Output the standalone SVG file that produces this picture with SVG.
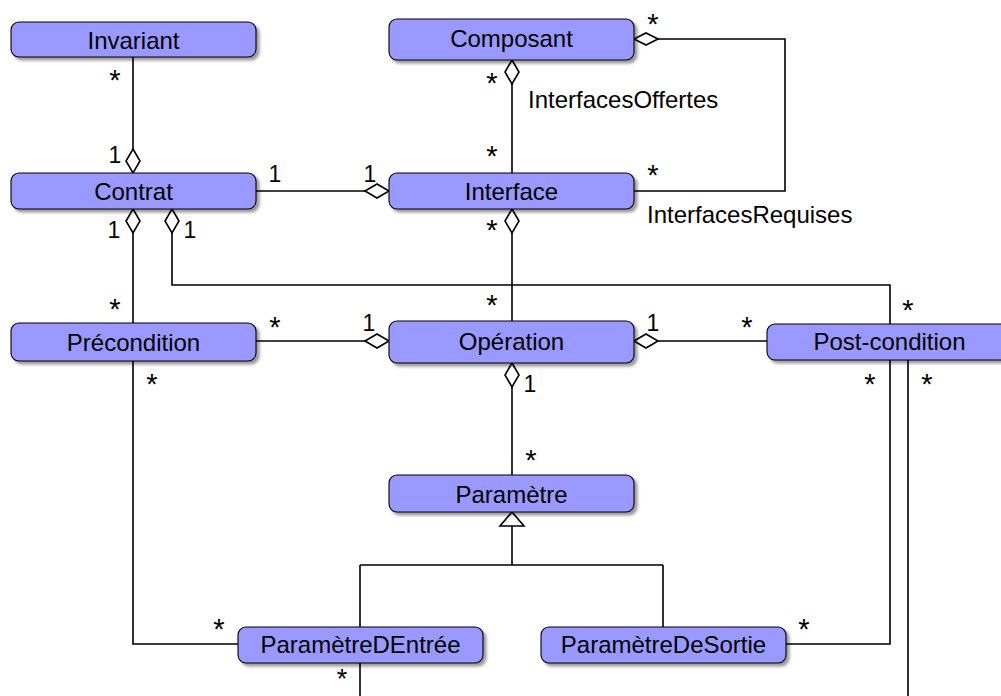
<svg xmlns="http://www.w3.org/2000/svg" width="1001" height="696" viewBox="0 0 1001 696">
<defs>
<filter id="sh" x="-10%" y="-30%" width="130%" height="180%">
<feDropShadow dx="3" dy="3" stdDeviation="1.4" flood-color="#000" flood-opacity="0.4"/>
</filter>
</defs>
<style>
.box{fill:#9999ff;stroke:#000;stroke-width:1.1;filter:url(#sh)}
.lbl{font-family:"Liberation Sans",Arial,sans-serif;font-size:24px;fill:#000;text-anchor:middle}
.t{font-family:"Liberation Sans",Arial,sans-serif;font-size:24px;fill:#000}
.m{font-family:"Liberation Sans",Arial,sans-serif;font-size:23px;fill:#000;text-anchor:middle}
.s{font-family:"Liberation Sans",Arial,sans-serif;font-size:29px;fill:#000;text-anchor:middle}
.ln{fill:none;stroke:#000;stroke-width:1.6}
.dia{fill:#fff;stroke:#000;stroke-width:1.6;stroke-linejoin:miter}
</style>
<rect width="1001" height="696" fill="#fff"/>
<g id="connectors">
<path class="ln" d="M133,57 V149"/>
<path class="dia" d="M133,149 L140,161 L133,173 L126,161 Z"/>
<path class="ln" d="M256,191 H365"/>
<path class="dia" d="M389,191 L377,184 L365,191 L377,198 Z"/>
<path class="dia" d="M512,60 L519,72 L512,84 L505,72 Z"/>
<path class="ln" d="M512,84 V173"/>
<path class="ln" d="M634,191 H785 V39 H658"/>
<path class="dia" d="M634,39 L646,33 L658,39 L646,45 Z"/>
<path class="dia" d="M133,209 L140,221 L133,233 L126,221 Z"/>
<path class="ln" d="M133,233 V323"/>
<path class="dia" d="M172,209 L179,221 L172,233 L165,221 Z"/>
<path class="ln" d="M172,233 V285 H890 V324"/>
<path class="dia" d="M512,209 L519,221 L512,233 L505,221 Z"/>
<path class="ln" d="M512,233 V321"/>
<path class="ln" d="M256,341 H365"/>
<path class="dia" d="M389,341 L377,334 L365,341 L377,348 Z"/>
<path class="dia" d="M634,341 L646,334 L658,341 L646,348 Z"/>
<path class="ln" d="M658,341 H767"/>
<path class="dia" d="M512,363 L519,375 L512,387 L505,375 Z"/>
<path class="ln" d="M512,387 V475"/>
<path class="ln" d="M512,526 V565 M360,565 H663 M360,565 V627 M663,565 V627"/>
<path class="dia" d="M512,512 L524,526 L500,526 Z"/>
<path class="ln" d="M133,361 V644 H238"/>
<path class="ln" d="M890,360 V644 H786"/>
<path class="ln" d="M908,360 V696"/>
<path class="ln" d="M360,663 V696"/>
</g>
<g id="n-invariant"><rect class="box" x="11" y="22" width="245" height="35" rx="8"/><text class="lbl" x="133.5" y="49">Invariant</text></g>
<g id="n-composant"><rect class="box" x="389" y="19" width="245" height="41" rx="8"/><text class="lbl" x="511.5" y="47">Composant</text></g>
<g id="n-contrat"><rect class="box" x="11" y="173" width="245" height="36" rx="8"/><text class="lbl" x="133.5" y="200">Contrat</text></g>
<g id="n-interface"><rect class="box" x="389" y="173" width="245" height="36" rx="8"/><text class="lbl" x="511.5" y="200">Interface</text></g>
<g id="n-precondition"><rect class="box" x="11" y="323" width="245" height="38" rx="8"/><text class="lbl" x="133.5" y="351">Précondition</text></g>
<g id="n-operation"><rect class="box" x="389" y="321" width="245" height="42" rx="8"/><text class="lbl" x="511.5" y="350">Opération</text></g>
<g id="n-postcondition"><rect class="box" x="767" y="324" width="245" height="36" rx="8"/><text class="lbl" x="889.5" y="350">Post-condition</text></g>
<g id="n-parametre"><rect class="box" x="389" y="475" width="245" height="37" rx="8"/><text class="lbl" x="511.5" y="503">Paramètre</text></g>
<g id="n-parametredentree"><rect class="box" x="238" y="627" width="245" height="36" rx="8"/><text class="lbl" x="360.5" y="653">ParamètreDEntrée</text></g>
<g id="n-parametredesortie"><rect class="box" x="541" y="627" width="245" height="36" rx="8"/><text class="lbl" x="663.5" y="653">ParamètreDeSortie</text></g>
<g id="labels">
<text class="t" x="528" y="108">InterfacesOffertes</text>
<text class="t" x="647" y="223">InterfacesRequises</text>
<text class="m" x="115" y="163">1</text>
<text class="m" x="275" y="182">1</text>
<text class="m" x="370" y="182">1</text>
<text class="m" x="114" y="238">1</text>
<text class="m" x="190" y="238">1</text>
<text class="m" x="369" y="331">1</text>
<text class="m" x="653" y="331">1</text>
<text class="m" x="530" y="392">1</text>
<text class="s" x="115" y="90">*</text>
<text class="s" x="653" y="34">*</text>
<text class="s" x="492" y="93">*</text>
<text class="s" x="492" y="166">*</text>
<text class="s" x="653" y="185">*</text>
<text class="s" x="492" y="240">*</text>
<text class="s" x="115" y="319">*</text>
<text class="s" x="908" y="320">*</text>
<text class="s" x="492" y="315">*</text>
<text class="s" x="275" y="337">*</text>
<text class="s" x="747" y="337">*</text>
<text class="s" x="152" y="394">*</text>
<text class="s" x="870" y="394">*</text>
<text class="s" x="927" y="394">*</text>
<text class="s" x="531" y="470">*</text>
<text class="s" x="219" y="639">*</text>
<text class="s" x="804" y="639">*</text>
<text class="m" x="342" y="688" style="font-size:27px">*</text>
</g>
</svg>
